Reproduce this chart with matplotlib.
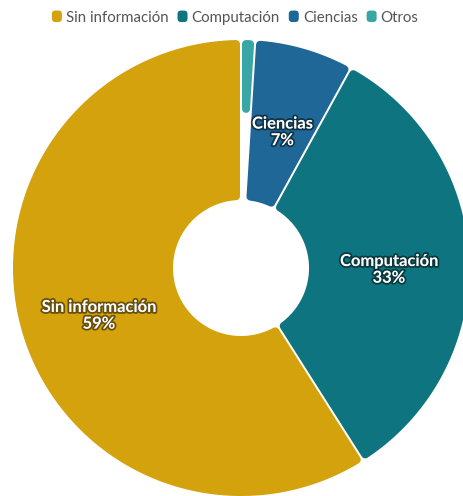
import numpy as np
import matplotlib
matplotlib.use("Agg")
import matplotlib.pyplot as plt
from matplotlib.patches import Polygon, FancyBboxPatch, Patch
from matplotlib.legend_handler import HandlerPatch
import matplotlib.patheffects as pe

# ---- data ----
categories = ["Sin información", "Computación", "Ciencias", "Otros"]
values = [59, 33, 7, 1]
colors = ["#D4A20C", "#0E7580", "#1F6796", "#38A6A5"]
show_label = [True, True, True, False]

# draw order (clockwise from top): Otros, Ciencias, Computación, Sin información
draw_order = [3, 2, 1, 0]

W, H = 463, 496
DPI = 100
fig = plt.figure(figsize=(W / DPI, H / DPI), dpi=DPI)
ax = fig.add_axes([0, 0, 1, 1])

cx, cy = 241, H - 268
R, r_in = 228, 68
px2pt = 72 / DPI

vals = [values[i] for i in draw_order]
cols = [colors[i] for i in draw_order]
wedges, _ = ax.pie(vals, colors=cols, startangle=90, counterclock=False,
                   radius=R, center=(cx, cy), wedgeprops=dict(width=R - r_in),
                   frame=False)

gap = 2.0      # px white gap between slices
rc = 4.0       # px corner radius


def rounded_wedge(w, color):
    t1, t2 = np.deg2rad(w.theta1), np.deg2rad(w.theta2)
    Ro = w.r - rc
    Ri = (w.r - w.width) + rc
    e = gap / 2 + rc
    c = np.array(w.center)
    pts = []
    a1, a2 = t1 + np.arcsin(e / Ro), t2 - np.arcsin(e / Ro)
    for a in np.linspace(a1, a2, 200):
        pts.append(c + Ro * np.array([np.cos(a), np.sin(a)]))
    b1, b2 = t1 + np.arcsin(e / Ri), t2 - np.arcsin(e / Ri)
    if b2 > b1:
        for a in np.linspace(b2, b1, 100):
            pts.append(c + Ri * np.array([np.cos(a), np.sin(a)]))
    else:
        half = (t2 - t1) / 2
        d = e / np.sin(half)
        am = (t1 + t2) / 2
        pts.append(c + d * np.array([np.cos(am), np.sin(am)]))
    poly = Polygon(pts, closed=True, facecolor=color, edgecolor=color,
                   linewidth=2 * rc * px2pt, joinstyle="round")
    ax.add_patch(poly)


for w, col in zip(wedges, cols):
    w.set_visible(False)
    rounded_wedge(w, col)

# data labels
label_r = 148
for w, idx in zip(wedges, draw_order):
    if not show_label[idx]:
        continue
    am = np.deg2rad((w.theta1 + w.theta2) / 2)
    x = cx + label_r * np.cos(am)
    y = cy + label_r * np.sin(am) - 6
    t = ax.text(x, y, f"{categories[idx]}\n{values[idx]}%", ha="center",
                va="center", color="white", fontsize=16.5 * px2pt,
                fontweight="bold", family=["Lato", "DejaVu Sans"],
                linespacing=1.05)
    t.set_path_effects([pe.Stroke(linewidth=2.6, foreground=(0, 0, 0, 0.5)),
                        pe.Normal()])

ax.set_xlim(0, W)
ax.set_ylim(0, H)
ax.set_aspect("equal")
ax.axis("off")


def make_round(legend, orig_handle, xdescent, ydescent, width, height, fontsize):
    return FancyBboxPatch((-xdescent, -ydescent), width, height,
                          boxstyle="round,pad=0,rounding_size=2.5")


fs = 15
handles = [Patch(facecolor=c, edgecolor="none") for c in colors]
leg = fig.legend(handles, categories, loc="upper center",
                 bbox_to_anchor=(0.508, 1.003), ncol=4, frameon=False,
                 handler_map={Patch: HandlerPatch(patch_func=make_round)},
                 handlelength=10 / fs, handleheight=12 / fs,
                 handletextpad=4 / fs, columnspacing=9 / fs,
                 borderpad=0.3,
                 prop={"family": ["Lato", "DejaVu Sans"], "size": fs * px2pt})
for txt in leg.get_texts():
    txt.set_color("#555555")

fig.savefig("out.png", dpi=DPI)
